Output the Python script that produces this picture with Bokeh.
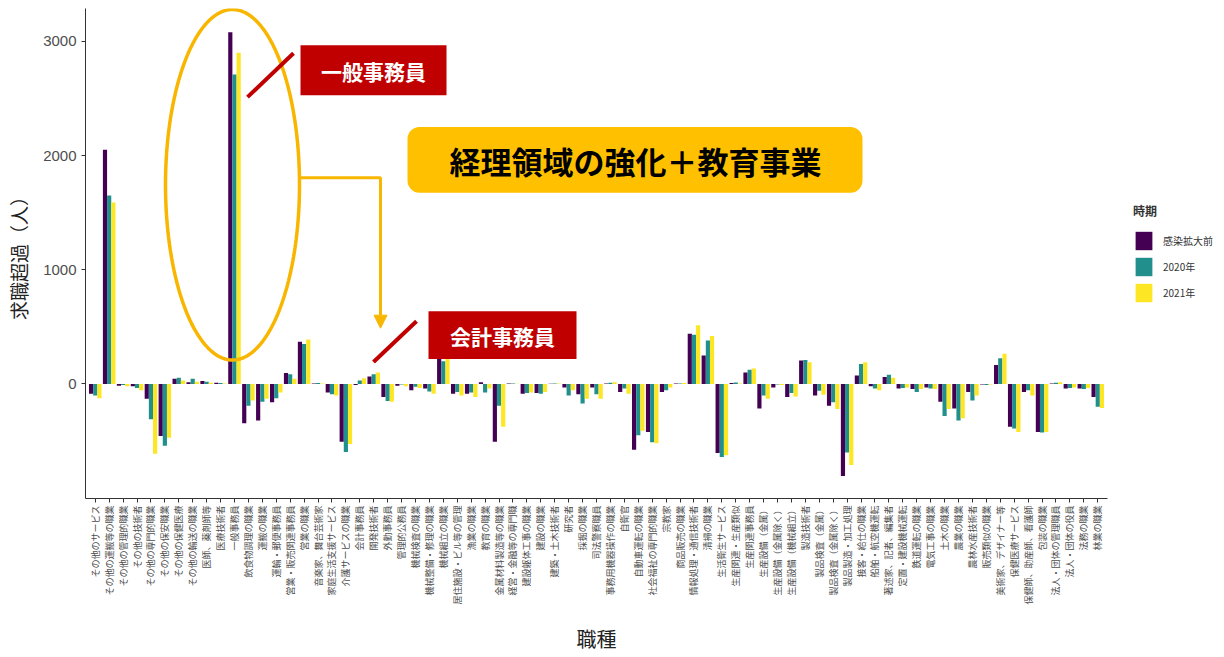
import numpy as np
from bokeh.plotting import figure
from bokeh.layouts import row
from bokeh.models import (ColumnDataSource, FactorRange, Range1d, Legend, LegendItem,
                          BoxAnnotation, Label, Arrow, NormalHead, FixedTicker)
from bokeh.transform import dodge
from bokeh.embed import file_html
from bokeh.resources import INLINE

categories = [
    "その他のサービス", "その他の運搬等の職業", "その他の管理的職業", "その他の技術者",
    "その他の専門的職業", "その他の保安職業", "その他の保健医療", "その他の輸送の職業",
    "医師、薬剤師等", "医療技術者", "一般事務員", "飲食物調理の職業", "運搬の職業",
    "運輸・郵便事務員", "営業・販売関連事務員", "営業の職業", "音楽家、舞台芸術家",
    "家庭生活支援サービス", "介護サービスの職業", "会計事務員", "開発技術者", "外勤事務員",
    "管理的公務員", "機械検査の職業", "機械整備・修理の職業", "機械組立の職業",
    "居住施設・ビル等の管理", "漁業の職業", "教育の職業", "金属材料製造等の職業",
    "経営・金融等の専門職", "建設躯体工事の職業", "建設の職業", "建築・土木技術者",
    "研究者", "採掘の職業", "司法警察職員", "事務用機器操作の職業", "自衛官",
    "自動車運転の職業", "社会福祉の専門的職業", "宗教家", "商品販売の職業",
    "情報処理・通信技術者", "清掃の職業", "生活衛生サービス", "生産関連・生産類似",
    "生産関連事務員", "生産設備（金属）", "生産設備（金属除く）", "生産設備（機械組立）",
    "製造技術者", "製品検査（金属）", "製品検査（金属除く）", "製品製造・加工処理",
    "接客・給仕の職業", "船舶・航空機運転", "著述家、記者、編集者", "定置・建設機械運転",
    "鉄道運転の職業", "電気工事の職業", "土木の職業", "農業の職業", "農林水産技術者",
    "販売類似の職業", "美術家、デザイナー等", "保健医療サービス", "保健師、助産師、看護師",
    "包装の職業", "法人・団体の管理職員", "法人・団体の役員", "法務の職業", "林業の職業",
]

before = [-85, 2050, -15, -20, -130, -455, 45, 15, 25, 10,
          3080, -345, -320, -160, 95, 370, 5, -75, -505, -10,
          65, -115, -15, -55, -40, 240, -85, -85, 15, -505,
          3, -85, -80, 2, -30, -90, -30, 5, -70, -575,
          -420, -70, 3, 440, 250, -605, 8, 100, -215, -30,
          -115, 205, -100, -190, -805, 75, -20, 60, -40, -45,
          -30, -155, -215, -70, -5, 165, -375, -70, -420, 5,
          -40, -40, -115]
y2020 = [-100, 1650, -10, -35, -310, -540, 55, 45, 20, 8,
         2710, -190, -155, -125, 85, 350, 8, -90, -595, 30,
         85, -150, -5, -25, -65, 200, -70, -75, -75, -190,
         5, -80, -85, 3, -100, -170, -90, 10, -40, -450,
         -510, -55, 5, 430, 380, -640, 12, 125, -100, -5,
         -80, 210, -60, -160, -600, 175, -40, 80, -35, -70,
         -40, -280, -320, -145, -8, 225, -390, -55, -425, 10,
         -35, -45, -200]
y2021 = [-125, 1590, -20, -55, -610, -470, 30, 20, 10, 3,
         2900, -145, -130, -75, 45, 390, 5, -100, -525, 50,
         100, -155, -20, -35, -85, 225, -100, -115, -40, -375,
         2, -75, -70, 5, -55, -130, -130, 15, -85, -410,
         -520, -30, 8, 515, 420, -625, 5, 135, -130, -10,
         -110, 190, -95, -220, -710, 190, -55, 55, -30, -45,
         -45, -220, -300, -100, -5, 265, -420, -100, -420, 15,
         -30, -35, -210]

periods = ["感染拡大前", "2020年", "2021年"]
colors = ["#440154", "#21908C", "#FDE725"]
y_ticks = [0, 1000, 2000, 3000]

FONT = "Noto Sans CJK JP"

# geometry (page pixels) of the plotting frame
H = 655
W = 1110            # main figure
W2 = 112            # legend figure
FL, FR, FT, FB = 85, 1107, 8, 500
PAD = 0.2
XS, XE = -PAD, len(categories) + PAD
PX_PER_UNIT = (385 - 41) / 3000.0
YTOP = (385 - FT) / PX_PER_UNIT
YBOT = -(FB - 385) / PX_PER_UNIT


def sx(X):
    return XS + (np.asarray(X, dtype=float) - FL) / (FR - FL) * (XE - XS)


def sy(Y):
    return YTOP - (np.asarray(Y, dtype=float) - FT) / (FB - FT) * (YTOP - YBOT)


source = ColumnDataSource(dict(cat=categories, before=before, y2020=y2020, y2021=y2021))

p = figure(
    x_range=FactorRange(factors=categories, range_padding=PAD, range_padding_units="absolute"),
    y_range=Range1d(YBOT, YTOP),
    width=W, height=H, output_backend="svg", toolbar_location=None,
    min_border_left=FL, min_border_right=W - FR,
    min_border_top=FT, min_border_bottom=H - FB,
)

for col, off, c in zip(["before", "y2020", "y2021"], [-0.3, 0.0, 0.3], colors):
    p.vbar(x=dodge("cat", off, range=p.x_range), top=col, width=0.3,
           source=source, fill_color=c, line_color=None)

p.xgrid.visible = False
p.ygrid.visible = False
p.outline_line_color = None
p.background_fill_color = "white"

p.yaxis.ticker = FixedTicker(ticks=y_ticks)
p.yaxis.minor_tick_line_color = None
p.yaxis.major_label_text_font_size = "15px"
p.yaxis.major_label_text_color = "#4d4d4d"
p.yaxis.major_label_text_font = "Liberation Sans"
p.yaxis.axis_label = "求職超過（人）"
p.yaxis.axis_label_text_font = FONT
p.yaxis.axis_label_text_font_size = "19px"
p.yaxis.axis_label_text_font_style = "normal"
p.yaxis.axis_label_text_color = "#222222"
p.yaxis.axis_label_standoff = 8

p.xaxis.major_label_orientation = np.pi / 2
p.xaxis.major_label_text_font = FONT
p.xaxis.major_label_text_font_size = "9px"
p.xaxis.major_label_text_color = "#4d4d4d"
p.xaxis.major_label_standoff = 3
p.xaxis.axis_label = "職種"
p.xaxis.axis_label_text_font = FONT
p.xaxis.axis_label_text_font_size = "20px"
p.xaxis.axis_label_text_font_style = "normal"
p.xaxis.axis_label_text_color = "#222222"
p.xaxis.axis_label_standoff = 16

for ax in (p.xaxis, p.yaxis):
    ax.axis_line_color = "#333333"
    ax.major_tick_line_color = "#333333"
    ax.major_tick_out = 4
    ax.major_tick_in = 0

GOLD = "#F8B600"
RED = "#C00000"

# ellipse around 一般事務員
t = np.linspace(0, 2 * np.pi, 240)
p.line(sx(232 + 67 * np.cos(t)), sy(185 + 176 * np.sin(t)), line_color=GOLD, line_width=3.5)

# connector from ellipse to 会計事務員
p.line(sx([299, 380, 380]), sy([178, 178, 312]), line_color=GOLD, line_width=3)
p.add_layout(Arrow(end=NormalHead(size=13, fill_color=GOLD, line_color=GOLD),
                   x_start=float(sx(380)), y_start=float(sy(305)),
                   x_end=float(sx(380)), y_end=float(sy(329)),
                   line_color=GOLD, line_width=3))

# red pointer lines
p.line(sx([247, 293]), sy([97, 53]), line_color=RED, line_width=4)
p.line(sx([373, 416]), sy([363, 322]), line_color=RED, line_width=4)

# boxes
p.add_layout(BoxAnnotation(left=float(sx(300)), right=float(sx(446)),
                           top=float(sy(45)), bottom=float(sy(95)),
                           fill_color=RED, fill_alpha=1, line_color=None))
p.add_layout(BoxAnnotation(left=float(sx(428)), right=float(sx(576)),
                           top=float(sy(312)), bottom=float(sy(360)),
                           fill_color=RED, fill_alpha=1, line_color=None))
p.add_layout(BoxAnnotation(left=float(sx(407)), right=float(sx(862)),
                           top=float(sy(127)), bottom=float(sy(193)),
                           fill_color="#FFC000", fill_alpha=1, line_color=None,
                           border_radius=12))

p.add_layout(Label(x=float(sx(373)), y=float(sy(71)), text="一般事務員",
                   text_align="center", text_baseline="middle", text_color="white",
                   text_font=FONT, text_font_size="21px", text_font_style="bold"))
p.add_layout(Label(x=float(sx(502)), y=float(sy(337)), text="会計事務員",
                   text_align="center", text_baseline="middle", text_color="white",
                   text_font=FONT, text_font_size="21px", text_font_style="bold"))
p.add_layout(Label(x=float(sx(635)), y=float(sy(161)), text="経理領域の強化＋教育事業",
                   text_align="center", text_baseline="middle", text_color="black",
                   text_font=FONT, text_font_size="31px", text_font_style="bold"))

# legend panel (separate small figure to the right of the plot)
pl = figure(width=W2, height=H, output_backend="svg", toolbar_location=None,
            x_range=Range1d(0, 1), y_range=Range1d(0, 1), min_border=0)
pl.axis.visible = False
pl.grid.visible = False
pl.outline_line_color = None
leg_items = []
for lab, c in zip(periods, colors):
    # keyed glyphs placed outside the visible range: they only supply legend swatches
    r = pl.vbar(x=[5.0], top=[5.0], bottom=[4.0], width=0.3, fill_color=c, line_color=None)
    leg_items.append(LegendItem(label=lab, renderers=[r]))

legend = Legend(
    items=leg_items, title="時期", location=(1133 - W, FB - 306),
    title_text_font=FONT, title_text_font_size="12px", title_text_font_style="bold",
    title_text_color="#333333", title_standoff=10,
    label_text_font=FONT, label_text_font_size="10px", label_text_color="#333333",
    glyph_width=21, glyph_height=23, spacing=3, label_standoff=9,
    padding=0, margin=0, border_line_color=None, background_fill_alpha=0,
)
pl.add_layout(legend)

layout = row(p, pl, spacing=0)
open("out.html", "w").write(file_html(layout, INLINE))
